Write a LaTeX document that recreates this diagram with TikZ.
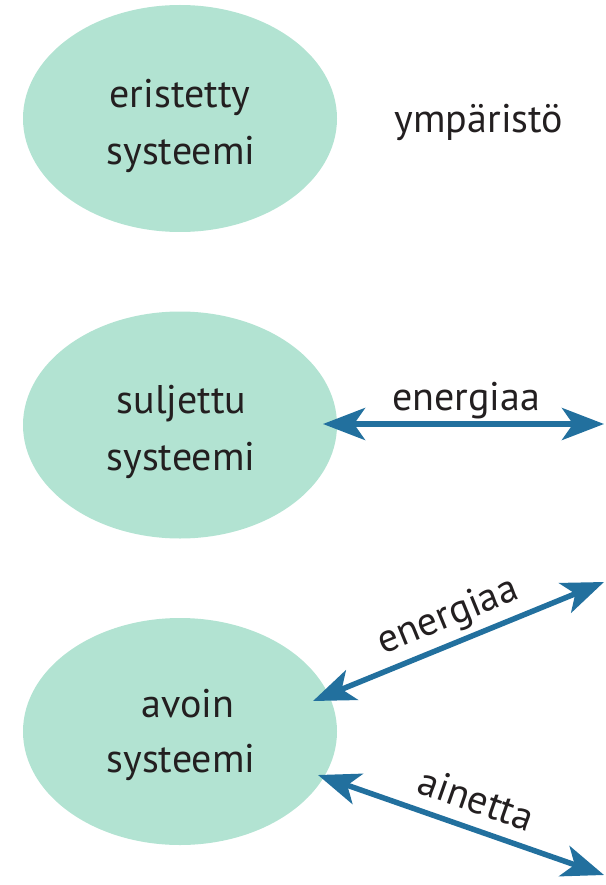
\documentclass[tikz,border=0pt]{standalone}
\usepackage{fontspec}
\setmainfont{PT Sans}
\usetikzlibrary{arrows.meta,shapes.geometric,calc}
\definecolor{mint}{HTML}{B2E3D2}
\definecolor{flow}{HTML}{22709E}
\definecolor{ink}{HTML}{231F20}
\begin{document}
\begin{tikzpicture}[x=1pt,y=-1pt,
  system/.style={ellipse, fill=mint, minimum width=314pt, minimum height=227pt, inner sep=0pt},
  word/.style={text=ink, font=\fontsize{40}{48}\selectfont, inner sep=0pt, anchor=base},
  tip/.tip={Stealth[length=42pt,width=32pt,inset=11pt]},
  flowarrow/.style={draw=flow, line width=5.5pt, tip-tip},
  flowlabel/.style={word, sloped, above=#1, text depth=0pt},
  flowlabel/.default=11pt]
\useasboundingbox (0,0) rectangle (605,885);

% the three kinds of system
\node[system] (s1) at (180,118.5) {};
\node[system] (s2) at (180,425) {};
\node[system] (s3) at (180,731.5) {};

\node[word] (s1a) at (180,108) {eristetty};
\node[word] (s1b) at (181,165) {systeemi};
\node[word] (s2a) at (181.5,413) {suljettu};
\node[word] (s2b) at (181,470) {systeemi};
\node[word] (s3a) at (188,717) {avoin};
\node[word] (s3b) at (181,772) {systeemi};

\node[word] (env) at (479,133) {ympäristö};

% exchanges with the surroundings
\coordinate (r2) at (604,424);
\coordinate (r3a) at (604,582);
\coordinate (r3b) at (604,875);

\draw[flowarrow] ($(s2.center)+(143,-1)$) -- node[flowlabel, pos=0.51] (l2) {energiaa} (r2);
\draw[flowarrow] ($(s3.center)+(133,-30.5)$) -- node[flowlabel=14pt, pos=0.5] (l3a) {energiaa} (r3a);
\draw[flowarrow] ($(s3.center)+(138,43.5)$) -- node[flowlabel=13pt, pos=0.52] (l3b) {ainetta} (r3b);
\end{tikzpicture}
\end{document}
